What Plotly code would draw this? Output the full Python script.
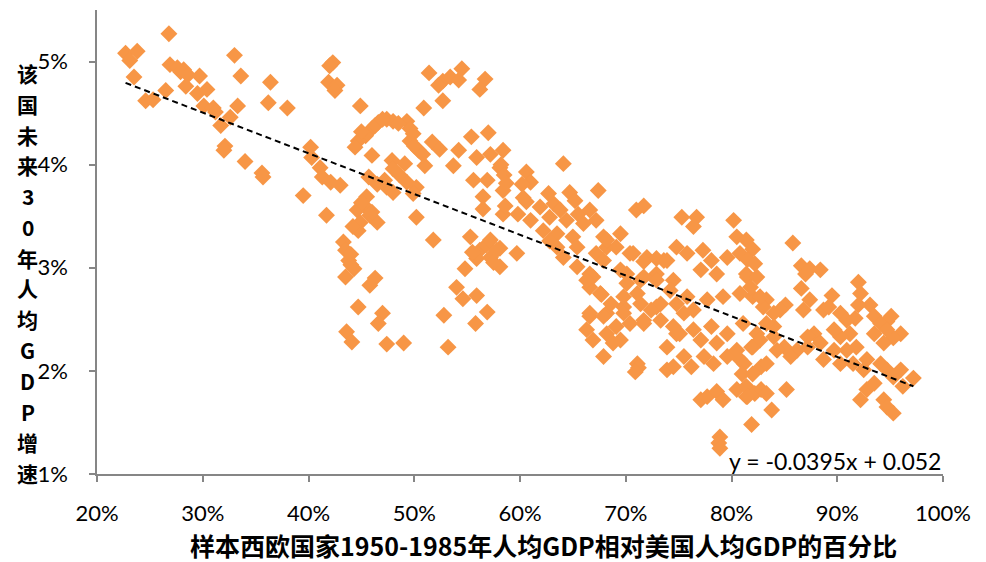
import plotly.graph_objects as go

# Scatter data: x = share of US GDP per capita (%), y = future 30y growth (%)
points = [
    # 20-40%
    (22.7,5.08),(23.8,5.10),(23.1,5.01),(23.5,4.85),(26.8,5.27),(26.9,4.97),(27.6,4.94),(28.2,4.92),
    (27.9,4.90),(28.6,4.87),(29.7,4.86),(28.4,4.76),(29.5,4.69),(30.4,4.73),(24.6,4.62),(25.3,4.63),
    (26.5,4.72),(30.1,4.57),(31.0,4.55),(31.2,4.51),(31.7,4.38),(32.6,4.46),(32.1,4.18),(32.0,4.14),
    (33.0,5.06),(33.6,4.86),(33.3,4.57),(34.0,4.03),(35.6,3.92),(35.7,3.88),(36.4,4.80),(36.2,4.60),
    (38.0,4.55),(39.5,3.70),(40.2,4.17),
    # 40-58%
    (42.3,4.99),(42.0,4.96),(41.9,4.80),(42.7,4.77),(42.5,4.72),(44.9,4.57),(51.4,4.89),(52.7,4.81),
    (52.3,4.77),(53.4,4.85),(54.5,4.93),(54.2,4.82),(56.7,4.83),(56.2,4.73),(52.7,4.62),(50.9,4.55),
    (47.4,4.44),(46.6,4.41),(46.0,4.35),(45.4,4.28),(44.7,4.23),(44.4,4.17),(48.0,4.42),(49.3,4.42),
    (49.6,4.35),(49.9,4.30),(49.6,4.23),(50.4,4.14),(51.7,4.22),(52.4,4.15),(46.0,4.09),(47.9,4.04),
    (49.1,4.01),(48.0,3.96),(51.0,3.99),(53.7,3.99),(54.2,4.14),(55.4,4.27),(57.0,4.31),(55.9,4.07),
    (57.2,4.10),(58.4,4.14),(55.6,3.85),(56.9,3.85),(58.1,3.97),(58.4,3.75),(56.5,3.69),(56.5,3.57),
    (58.4,3.52),(40.3,4.07),(41.1,3.97),(41.3,3.88),(42.1,3.83),(43.0,3.80),(41.7,3.51),(45.7,3.88),
    (46.5,3.81),(47.4,3.78),(48.0,3.73),(49.3,3.83),(50.2,3.78),(49.9,3.72),(45.5,3.69),(45.4,3.59),
    (44.6,3.56),(45.8,3.51),(44.9,3.44),(46.5,3.44),(44.7,3.36),(50.2,3.49),(51.8,3.27),(43.3,3.25),
    (43.5,3.17),(43.8,3.07),(44.3,2.99),(43.5,2.91),(46.3,2.90),(45.8,2.83),(55.3,3.30),(56.2,3.17),
    (55.9,3.09),(57.2,3.10),(58.1,3.19),(58.1,3.01),(54.8,2.99),(54.0,2.81),(54.6,2.70),(55.9,2.73),
    (44.7,2.62),(47.0,2.56),(46.6,2.46),(52.8,2.54),(56.9,2.57),(55.8,2.46),(43.6,2.38),(44.1,2.28),
    (47.4,2.26),(49.0,2.27),(53.2,2.23),
    (45.0,4.32),(46.3,4.38),(47.0,4.44),(48.5,4.40),(50.0,4.18),(50.8,4.10),(47.2,3.85),(48.6,3.90),
    (44.2,3.40),(45.0,3.63),(46.0,3.54),(44.0,3.13),(44.0,3.03),(56.8,3.22),(57.5,3.05),(55.5,3.15),
    (57.2,3.27),
    # 58-75%
    (58.2,4.00),(58.5,3.90),(58.7,3.82),(60.6,3.93),(61.0,3.83),(60.2,3.81),(64.1,4.01),(67.4,3.75),
    (62.7,3.72),(64.7,3.73),(58.6,3.60),(60.6,3.64),(59.8,3.52),(61.0,3.46),(63.2,3.62),(63.8,3.56),
    (62.8,3.49),(65.2,3.65),(65.5,3.52),(66.6,3.56),(67.2,3.46),(66.0,3.43),(64.4,3.46),(62.2,3.36),
    (63.5,3.33),(65.0,3.30),(71.0,3.56),(71.7,3.60),(75.3,3.49),(67.9,3.30),(69.5,3.33),(59.7,3.14),
    (57.8,3.17),(64.1,3.10),(65.4,3.01),(66.6,2.94),(67.2,3.14),(68.2,3.20),(70.4,3.14),(72.0,3.10),
    (73.6,3.07),(74.8,3.20),(66.6,2.81),(67.6,2.75),(70.1,2.94),(71.4,2.88),(72.9,2.94),(74.5,2.88),
    (66.6,2.53),(68.2,2.56),(69.8,2.62),(71.4,2.65),(72.9,2.62),(74.8,2.65),(66.3,2.40),(69.1,2.43),
    (71.7,2.46),(74.8,2.36),
    (60.3,3.68),(61.9,3.59),(63.5,3.20),(65.4,3.20),(62.8,3.26),
    # 67-83%
    (76.7,3.49),(80.2,3.46),(76.4,3.40),(80.5,3.30),(81.4,3.27),(75.8,3.14),(77.3,3.17),(78.1,3.07),
    (79.6,3.10),(80.8,3.14),(77.1,2.98),(78.6,2.94),(81.4,2.94),(70.7,3.14),(71.7,3.06),(72.9,3.09),
    (73.9,3.07),(69.1,3.20),(68.2,3.27),(67.9,3.07),(69.5,2.98),(70.1,2.85),(71.7,2.91),(72.9,2.88),
    (74.2,2.78),(75.8,2.72),(77.7,2.69),(79.2,2.72),(80.8,2.75),(82.0,2.72),(66.9,2.91),(66.3,2.88),
    (67.7,2.74),(68.6,2.65),(69.8,2.72),(71.1,2.75),(72.4,2.59),(73.3,2.65),(75.5,2.56),(76.4,2.59),
    (66.6,2.56),(67.9,2.53),(69.8,2.56),(70.4,2.46),(71.7,2.49),(73.3,2.49),(74.5,2.43),(66.9,2.30),
    (68.2,2.36),(68.8,2.27),(67.9,2.14),(69.5,2.30),(71.1,2.07),(71.2,2.03),(70.9,1.99),(73.9,2.23),
    (75.1,2.36),(76.4,2.40),(78.1,2.43),(79.6,2.36),(81.1,2.46),(82.4,2.36),(73.9,2.01),(74.5,2.04),
    (75.5,2.14),(76.2,2.04),(77.4,2.14),(78.3,2.07),(79.6,2.14),(80.8,2.11),(78.6,2.27),(77.1,2.30),
    (80.5,2.20),(81.9,2.23),(77.1,1.72),(77.7,1.75),(78.6,1.80),(79.2,1.72),(80.5,1.82),(81.4,1.75),
    (81.9,1.48),(78.9,1.36),(78.8,1.30),(78.9,1.25),
    # 80-97%
    (85.8,3.24),(82.0,3.18),(81.5,3.08),(82.2,3.04),(81.5,2.91),(82.4,2.91),(81.8,2.81),(86.6,3.02),
    (87.4,2.99),(88.4,2.98),(87.0,2.94),(86.6,2.80),(87.4,2.69),(86.8,2.59),(89.5,2.73),(92.0,2.86),
    (92.2,2.75),(93.1,2.64),(92.0,2.64),(95.1,2.53),(94.7,2.48),(96.0,2.36),(95.3,2.32),(83.3,2.69),
    (83.0,2.62),(82.7,2.72),(85.1,2.64),(84.6,2.59),(84.0,2.56),(88.7,2.59),(89.2,2.62),(90.3,2.56),
    (90.9,2.49),(91.7,2.51),(93.5,2.53),(94.1,2.46),(94.7,2.40),(93.5,2.36),(94.4,2.27),(91.2,2.36),
    (91.8,2.23),(90.9,2.20),(90.3,2.33),(89.7,2.40),(87.8,2.36),(88.4,2.27),(87.2,2.33),(87.2,2.23),
    (86.2,2.20),(85.6,2.14),(85.0,2.23),(84.0,2.33),(84.0,2.43),(83.3,2.46),(84.3,2.20),(82.7,2.30),
    (82.0,2.23),(81.2,2.07),(82.8,2.04),(82.0,1.97),(81.0,1.97),(83.3,2.07),(88.7,2.11),(89.7,2.20),
    (90.3,2.07),(91.5,2.07),(92.8,2.11),(92.5,2.01),(94.1,2.07),(94.7,2.01),(95.3,1.94),(96.0,2.01),
    (97.2,1.93),(96.2,1.85),(92.8,1.82),(92.2,1.72),(93.5,1.88),(94.4,1.72),(94.7,1.65),(95.3,1.59),
    (85.2,1.82),(81.4,1.85),(82.2,1.78),(82.8,1.82),(83.3,1.78),(81.5,1.75),(83.8,1.62),
]

x_share = [p[0] / 100 for p in points]
y_growth = [p[1] / 100 for p in points]

# Linear trendline as drawn in the reference
TREND_SLOPE = -0.0395
TREND_INTERCEPT = 0.0569
TREND_LABEL = "y = -0.0395x + 0.052"

x_ticks = [0.2, 0.3, 0.4, 0.5, 0.6, 0.7, 0.8, 0.9, 1.0]
y_ticks = [0.01, 0.02, 0.03, 0.04, 0.05]

x_title = "样本西欧国家1950-1985年人均GDP相对美国人均GDP的百分比"
y_title_chars = ["该", "国", "未", "来", "3", "0", "年", "人", "均",
                 "G", "D", "P", "增", "速"]

ORANGE = "#F79646"
AXIS = "#868686"
TICK_FONT = dict(family="Lato, Noto Sans CJK SC", size=22, color="#000000")

fig = go.Figure()
fig.add_trace(go.Scatter(
    x=x_share, y=y_growth, mode="markers",
    marker=dict(symbol="diamond", size=13, color=ORANGE, line=dict(width=0)),
    showlegend=False, hoverinfo="x+y",
))

tx = [min(x_share), max(x_share)]
ty = [TREND_SLOPE * v + TREND_INTERCEPT for v in tx]
fig.add_trace(go.Scatter(
    x=tx, y=ty, mode="lines",
    line=dict(color="#000000", width=2, dash="6px,4px"),
    showlegend=False, hoverinfo="skip",
))

annotations = [
    dict(text=TREND_LABEL, xref="paper", yref="paper", x=1.0, y=0.028,
         xanchor="right", yanchor="middle", showarrow=False,
         font=dict(family="Lato", size=23, color="#000000")),
    dict(text="<b>" + x_title + "</b>", xref="paper", yref="paper", x=0.528, y=-0.153,
         xanchor="center", yanchor="middle", showarrow=False,
         font=dict(family="Noto Sans CJK SC", size=25, color="#000000")),
]
# vertical stacked y-axis title, one character per row
PLOT_TOP, PLOT_H = 10.0, 464.3
for i, ch in enumerate(y_title_chars):
    ypx = 73 + i * 30.8
    annotations.append(dict(
        text="<b>" + ch + "</b>", xref="paper", yref="paper",
        x=-0.082, y=1 - (ypx - PLOT_TOP) / PLOT_H, xanchor="center", yanchor="middle",
        showarrow=False, font=dict(family="Noto Sans CJK SC", size=21, color="#000000"),
    ))

fig.update_layout(
    width=986, height=562,
    margin=dict(l=97, r=43, t=10, b=88),
    paper_bgcolor="#FFFFFF", plot_bgcolor="#FFFFFF",
    xaxis=dict(
        range=[0.2, 1.0], tickvals=x_ticks, tickformat=".0%",
        showgrid=False, zeroline=False, showline=True, linecolor=AXIS, linewidth=1.5,
        ticks="outside", ticklen=6, tickcolor=AXIS, tickwidth=1.5,
        tickfont=TICK_FONT, ticklabelstandoff=13,
    ),
    yaxis=dict(
        range=[0.01, 0.055], tickvals=y_ticks, tickformat=".0%",
        showgrid=False, zeroline=False, showline=True, linecolor=AXIS, linewidth=1.5,
        ticks="outside", ticklen=6, tickcolor=AXIS, tickwidth=1.5,
        tickfont=TICK_FONT, ticklabelstandoff=17,
    ),
    annotations=annotations,
)

fig.write_html("out.html")
